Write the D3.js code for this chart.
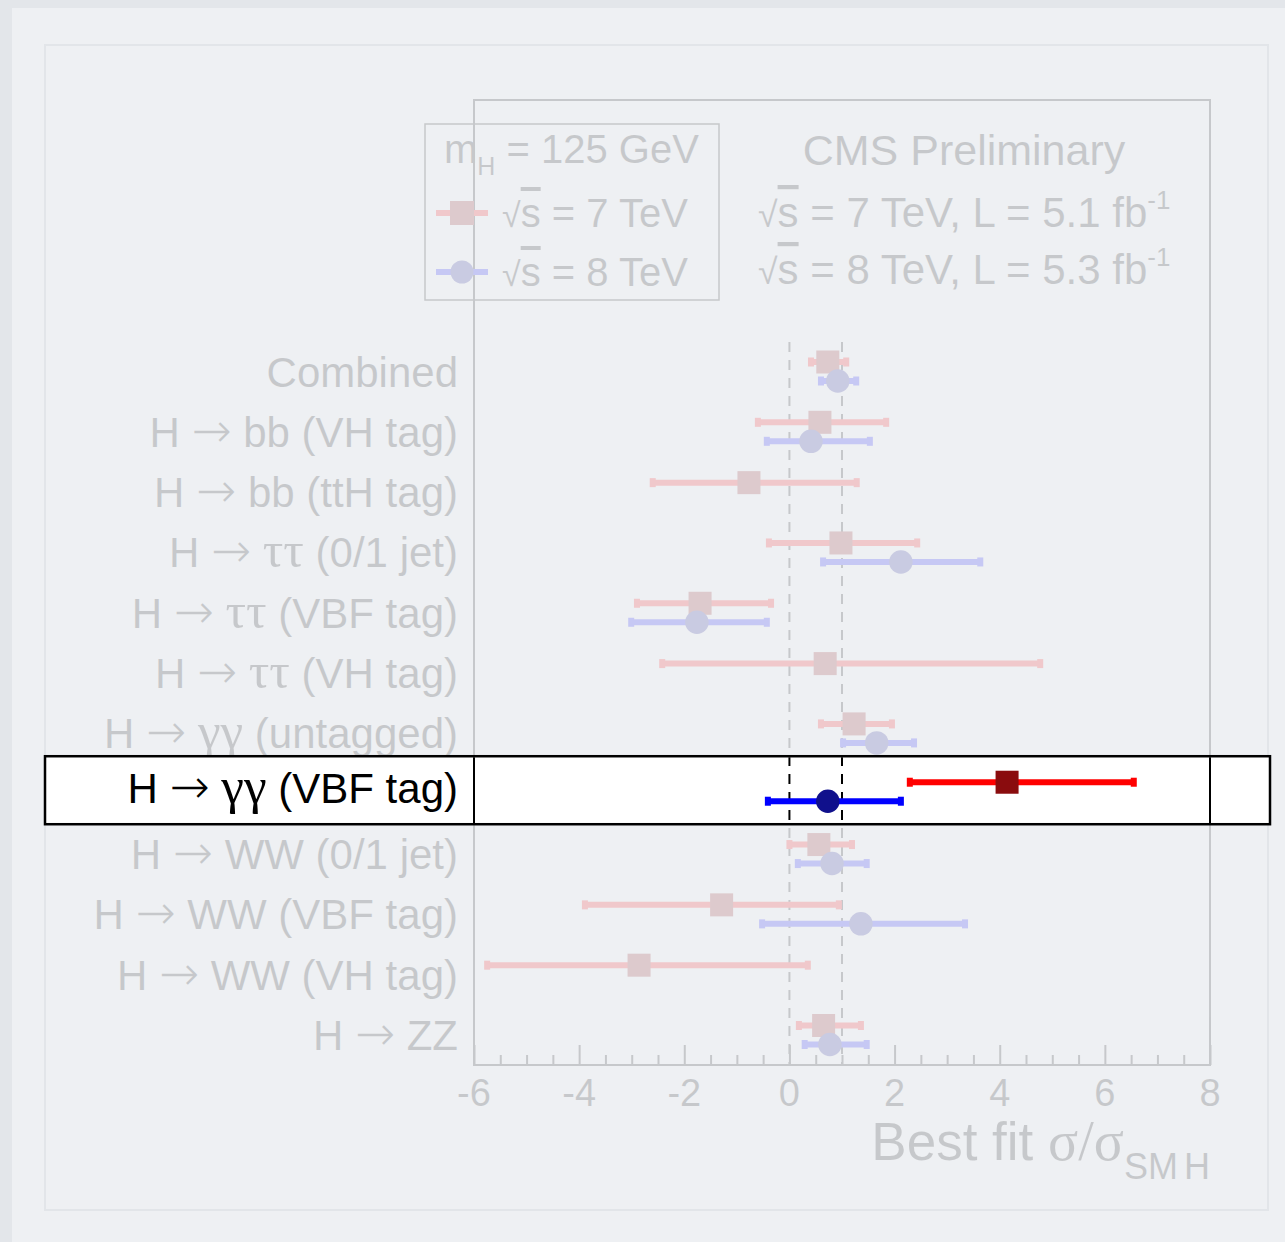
<!DOCTYPE html>
<html><head><meta charset="utf-8">
<script src="https://cdn.jsdelivr.net/npm/d3@7"></script>
<style>body{margin:0;background:#e3e6ea}svg{display:block}</style>
</head><body><svg id="c" width="1285" height="1242"></svg>
<script>
const categories = ["Combined","H → bb (VH tag)","H → bb (ttH tag)","H → ττ (0/1 jet)","H → ττ (VBF tag)","H → ττ (VH tag)","H → γγ (untagged)","H → γγ (VBF tag)","H → WW (0/1 jet)","H → WW (VBF tag)","H → WW (VH tag)","H → ZZ"];
const highlighted = "H → γγ (VBF tag)";
const val7 = [0.73, 0.58, -0.77, 0.98, -1.70, 0.68, 1.23, 4.14, 0.56, -1.29, -2.86, 0.65];
const lo7  = [0.41, -0.60, -2.60, -0.39, -2.90, -2.42, 0.60, 2.29, 0.00, -3.89, -5.75, 0.18];
const hi7  = [1.08, 1.84, 1.28, 2.43, -0.35, 4.77, 1.95, 6.55, 1.19, 0.94, 0.35, 1.36];
const val8 = [0.92, 0.41, null, 2.12, -1.76, null, 1.66, 0.73, 0.81, 1.36, null, 0.77];
const lo8  = [0.60, -0.43, null, 0.64, -3.01, null, 1.02, -0.41, 0.16, -0.52, null, 0.29];
const hi8  = [1.27, 1.53, null, 3.63, -0.43, null, 2.37, 2.12, 1.47, 3.34, null, 1.47];
const xTicks = [-6,-4,-2,0,2,4,6,8];
const refLines = [0, 1];

const SANS = "'Liberation Sans', Arial, Helvetica, sans-serif";
const SERIF = "'Liberation Serif', 'Times New Roman', serif";
const ARROWF = "'DejaVu Sans', sans-serif";
const RED = "#ff0000", DRED = "#8a0c0e", BLUE = "#0000ff", NAVY = "#10108c";

const W = 1285, H = 1242;
const svg = d3.select("#c");
svg.append("rect").attr("width", W).attr("height", H).attr("fill", "#e3e6ea");
svg.append("rect").attr("x", 12).attr("y", 8).attr("width", W - 12).attr("height", H - 8).attr("fill", "#eef0f3");
svg.append("rect").attr("x", 45).attr("y", 45).attr("width", 1223).attr("height", 1165)
  .attr("fill", "none").attr("stroke", "#e2e5e9").attr("stroke-width", 2);

const x = d3.scaleLinear().domain([-6, 8]).range([474, 1210]);
const y = d3.scalePoint().domain(categories).range([371.5, 1035]);
const yTop = 100, yBot = 1065;

function richLabel(sel, str) {
  const parts = str.split(/(→|[γτ]+)/).filter(s => s.length);
  parts.forEach(p => {
    const t = sel.append("tspan");
    if (p === "→") t.attr("font-family", ARROWF).attr("font-size", "1.14em").attr("font-weight", 200);
    else if (/[γτ]/.test(p)) t.attr("font-family", SERIF).attr("font-size", "1.22em");
    else t.attr("font-family", SANS);
    t.text(p);
  });
}

function sqrtText(sel, rest) {
  sel.append("tspan").attr("font-family", "'DejaVu Sans', sans-serif").attr("font-size", "0.85em").attr("font-weight", 200).text("√");
  sel.append("tspan").style("text-decoration", "overline").text("s");
  sel.append("tspan").text(rest);
}

function drawPoint(g, i, cy) {
  const bar = (lo, hi, yy, col) => {
    g.append("line").attr("x1", x(lo)).attr("x2", x(hi)).attr("y1", yy).attr("y2", yy)
      .attr("stroke", col).attr("stroke-width", 6);
    [lo, hi].forEach(v => g.append("rect").attr("x", x(v) - 3).attr("y", yy - 4.5)
      .attr("width", 6).attr("height", 9).attr("fill", col));
  };
  const yr = cy - 9.5, yb = cy + 9.5;
  bar(lo7[i], hi7[i], yr, RED);
  g.append("rect").attr("x", x(val7[i]) - 11.5).attr("y", yr - 11.5).attr("width", 23).attr("height", 23).attr("fill", DRED);
  if (val8[i] !== null) {
    bar(lo8[i], hi8[i], yb, BLUE);
    g.append("circle").attr("cx", x(val8[i])).attr("cy", yb).attr("r", 11.75).attr("fill", NAVY);
  }
}

// ---------- faded layer ----------
const g = svg.append("g").attr("opacity", 0.16);

refLines.forEach(v => g.append("line").attr("x1", x(v)).attr("x2", x(v)).attr("y1", 342).attr("y2", yBot)
  .attr("stroke", "#000").attr("stroke-width", 2).attr("stroke-dasharray", "10,8"));

g.append("rect").attr("x", x(-6)).attr("y", yTop).attr("width", x(8) - x(-6)).attr("height", yBot - yTop)
  .attr("fill", "none").attr("stroke", "#000").attr("stroke-width", 2);

const minor = d3.range(-6, 8.01, 0.5).filter(v => !xTicks.includes(v));
const axMinor = g.append("g").attr("transform", `translate(0,${yBot})`)
  .call(d3.axisTop(x).tickValues(minor).tickSize(10).tickFormat(""));
const axMajor = g.append("g").attr("transform", `translate(0,${yBot})`)
  .call(d3.axisTop(x).tickValues(xTicks).tickSize(20).tickFormat(""));
[axMinor, axMajor].forEach(a => { a.select(".domain").remove(); a.selectAll("line").attr("stroke", "#000").attr("stroke-width", 2); });

g.selectAll("text.tick").data(xTicks).join("text")
  .attr("x", d => x(d)).attr("y", 1106).attr("text-anchor", "middle")
  .attr("font-family", SANS).attr("font-size", 38).attr("fill", "#000").text(d => d);

const at = g.append("text").attr("x", 1210).attr("y", 1160).attr("text-anchor", "end")
  .attr("font-family", SANS).attr("font-size", 53).attr("fill", "#000");
at.append("tspan").text("Best fit ");
at.append("tspan").attr("font-family", SERIF).attr("font-size", 56).text("σ/σ");
at.append("tspan").attr("font-size", 36).attr("dy", 19).text("SM");
at.append("tspan").attr("font-size", 36).attr("dx", 6).text("H");

g.append("rect").attr("x", 425).attr("y", 124).attr("width", 294).attr("height", 176)
  .attr("fill", "none").attr("stroke", "#000").attr("stroke-width", 1.5);
const t1 = g.append("text").attr("x", 444).attr("y", 163).attr("font-family", SANS).attr("font-size", 40).attr("fill", "#000");
t1.append("tspan").text("m");
t1.append("tspan").attr("font-size", 25).attr("dy", 12).text("H");
t1.append("tspan").attr("dy", -12).text(" = 125 GeV");
g.append("line").attr("x1", 436).attr("x2", 488).attr("y1", 213).attr("y2", 213).attr("stroke", RED).attr("stroke-width", 6);
g.append("rect").attr("x", 450).attr("y", 201).attr("width", 24).attr("height", 24).attr("fill", DRED);
sqrtText(g.append("text").attr("x", 502).attr("y", 227).attr("font-family", SANS).attr("font-size", 40).attr("fill", "#000"), " = 7 TeV");
g.append("line").attr("x1", 436).attr("x2", 488).attr("y1", 272).attr("y2", 272).attr("stroke", BLUE).attr("stroke-width", 6);
g.append("circle").attr("cx", 462).attr("cy", 272).attr("r", 11.5).attr("fill", NAVY);
sqrtText(g.append("text").attr("x", 502).attr("y", 286).attr("font-family", SANS).attr("font-size", 40).attr("fill", "#000"), " = 8 TeV");

g.append("text").attr("x", 964).attr("y", 165).attr("text-anchor", "middle")
  .attr("font-family", SANS).attr("font-size", 43).attr("fill", "#000").text("CMS Preliminary");
[["7", "5.1", 227], ["8", "5.3", 284]].forEach(([e, l, yy]) => {
  const t = g.append("text").attr("x", 758).attr("y", yy).attr("font-family", SANS).attr("font-size", 42).attr("fill", "#000");
  sqrtText(t, ` = ${e} TeV, L = ${l} fb`);
  t.append("tspan").attr("font-size", 26).attr("dy", -18).text("-1");
});

categories.forEach((c, i) => {
  if (c === highlighted) return;
  const cy = y(c);
  richLabel(g.append("text").attr("x", 458).attr("y", cy + 15).attr("text-anchor", "end")
    .attr("font-size", 42).attr("fill", "#000"), c);
  drawPoint(g, i, cy);
});

// ---------- highlighted row ----------
const hi = categories.indexOf(highlighted);
const hcy = y(highlighted) - 3.5;
const hg = svg.append("g");
hg.append("rect").attr("x", 45).attr("y", hcy - 34).attr("width", 1225).attr("height", 68)
  .attr("fill", "#fff").attr("stroke", "#000").attr("stroke-width", 2.5);
svg.append("defs").append("clipPath").attr("id", "hclip").append("rect")
  .attr("x", 45).attr("y", hcy - 33).attr("width", 1225).attr("height", 66);
const hc = hg.append("g").attr("clip-path", "url(#hclip)");
refLines.forEach(v => hc.append("line").attr("x1", x(v)).attr("x2", x(v)).attr("y1", 342).attr("y2", yBot)
  .attr("stroke", "#000").attr("stroke-width", 2).attr("stroke-dasharray", "10,8"));
[x(-6), x(8)].forEach(xx => hc.append("line").attr("x1", xx).attr("x2", xx).attr("y1", hcy - 40).attr("y2", hcy + 40)
  .attr("stroke", "#000").attr("stroke-width", 2));
richLabel(hg.append("text").attr("x", 458).attr("y", hcy + 13).attr("text-anchor", "end")
  .attr("font-size", 42).attr("fill", "#000"), highlighted);
drawPoint(hg, hi, hcy + 1.5);
</script></body></html>
